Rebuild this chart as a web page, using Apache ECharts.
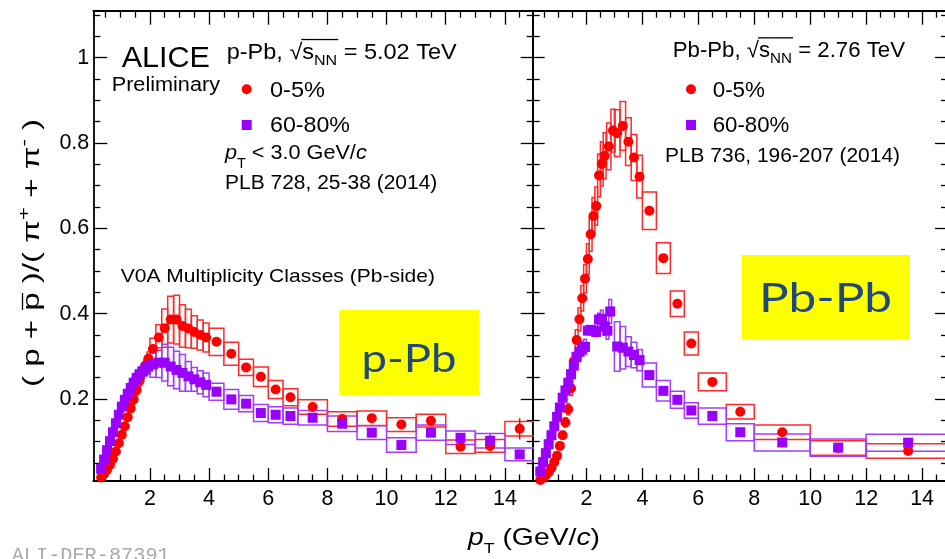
<!DOCTYPE html>
<html>
<head>
<meta charset="utf-8">
<title>(p+pbar)/(pi+ + pi-) vs pT — p-Pb and Pb-Pb</title>
<script src="https://cdn.jsdelivr.net/npm/echarts@6/dist/echarts.min.js"></script>
<style>
  html, body { margin: 0; padding: 0; background: #ffffff; }
  #chart { width: 945px; height: 559px; }
</style>
</head>
<body>
<div id="chart"></div>
<script>
// ---------------------------------------------------------------------------
// Tick positions / labels
// ---------------------------------------------------------------------------
const X_MAJOR = [2, 4, 6, 8, 10, 12, 14];
const X_MINOR = [0.5, 1, 1.5, 2.5, 3, 3.5, 4.5, 5, 5.5, 6.5, 7, 7.5, 8.5, 9, 9.5,
                 10.5, 11, 11.5, 12.5, 13, 13.5, 14.5];
const Y_MAJOR = [0.2, 0.4, 0.6, 0.8, 1.0];
const Y_MINOR = [0.05, 0.1, 0.15, 0.25, 0.3, 0.35, 0.45, 0.5, 0.55, 0.65, 0.7, 0.75,
                 0.85, 0.9, 0.95, 1.05, 1.1];

// ---------------------------------------------------------------------------
// p-Pb, sqrt(sNN) = 5.02 TeV  (V0A classes)
// ---------------------------------------------------------------------------
const ppbPt = [0.35, 0.45, 0.55, 0.65, 0.75, 0.85, 0.95, 1.05, 1.15, 1.25, 1.35, 1.45, 1.55, 1.65, 1.75, 1.85, 1.95,
               2.1, 2.3, 2.5, 2.7, 2.9, 3.1, 3.3, 3.5, 3.7, 3.9,
               4.25, 4.75, 5.25, 5.75, 6.25, 6.75,
               7.5, 8.5, 9.5, 10.5, 11.5, 12.5, 13.5, 14.5];
const ppbHalfWidth = [0.05, 0.05, 0.05, 0.05, 0.05, 0.05, 0.05, 0.05, 0.05, 0.05, 0.05, 0.05, 0.05, 0.05, 0.05, 0.05, 0.05,
                      0.1, 0.1, 0.1, 0.1, 0.1, 0.1, 0.1, 0.1, 0.1, 0.1,
                      0.25, 0.25, 0.25, 0.25, 0.25, 0.25,
                      0.5, 0.5, 0.5, 0.5, 0.5, 0.5, 0.5, 0.5];
// 0-5 %
const ppbCentVal = [0.016, 0.024, 0.034, 0.046, 0.060, 0.077, 0.096, 0.116, 0.136, 0.157, 0.178, 0.199, 0.221, 0.243, 0.262, 0.279, 0.294,
                    0.317, 0.344, 0.366, 0.386, 0.386, 0.371, 0.365, 0.357, 0.350, 0.344,
                    0.334, 0.306, 0.274, 0.252, 0.222, 0.204,
                    0.181, 0.153, 0.155, 0.140, 0.149, 0.088, 0.090, 0.130];
const ppbCentStat = [0.001, 0.001, 0.001, 0.002, 0.002, 0.002, 0.002, 0.002, 0.002, 0.002, 0.002, 0.003, 0.003, 0.003, 0.003, 0.003, 0.003,
                     0.004, 0.004, 0.005, 0.006, 0.006, 0.006, 0.006, 0.006, 0.006, 0.006,
                     0.004, 0.004, 0.004, 0.004, 0.004, 0.005,
                     0.005, 0.006, 0.007, 0.008, 0.011, 0.010, 0.014, 0.025];
const ppbCentSys = [0.002, 0.002, 0.003, 0.003, 0.004, 0.005, 0.006, 0.007, 0.008, 0.009, 0.010, 0.011, 0.012, 0.013, 0.014, 0.015, 0.016,
                    0.025, 0.030, 0.045, 0.055, 0.057, 0.050, 0.045, 0.038, 0.035, 0.034,
                    0.032, 0.027, 0.019, 0.023, 0.021, 0.020,
                    0.017, 0.017, 0.017, 0.016, 0.015, 0.016, 0.015, 0.017];
// 60-80 %
const ppbPeriVal = [0.036, 0.058, 0.080, 0.101, 0.122, 0.143, 0.163, 0.182, 0.198, 0.212, 0.226, 0.238, 0.249, 0.258, 0.265, 0.271, 0.276,
                    0.281, 0.285, 0.285, 0.276, 0.268, 0.261, 0.253, 0.246, 0.239, 0.233,
                    0.217, 0.199, 0.189, 0.167, 0.163, 0.160,
                    0.156, 0.142, 0.121, 0.092, 0.121, 0.109, 0.102, 0.070];
const ppbPeriStat = [0.001, 0.001, 0.002, 0.002, 0.002, 0.002, 0.002, 0.002, 0.002, 0.002, 0.002, 0.002, 0.003, 0.003, 0.003, 0.003, 0.003,
                     0.004, 0.004, 0.005, 0.005, 0.005, 0.005, 0.005, 0.005, 0.005, 0.005,
                     0.004, 0.004, 0.004, 0.004, 0.004, 0.004,
                     0.004, 0.005, 0.006, 0.007, 0.008, 0.011, 0.015, 0.011];
const ppbPeriSys = [0.002, 0.003, 0.004, 0.005, 0.006, 0.007, 0.008, 0.009, 0.010, 0.011, 0.012, 0.013, 0.014, 0.015, 0.016, 0.017, 0.018,
                    0.030, 0.035, 0.043, 0.045, 0.044, 0.043, 0.035, 0.028, 0.027, 0.028,
                    0.020, 0.023, 0.019, 0.020, 0.019, 0.019,
                    0.017, 0.018, 0.016, 0.017, 0.018, 0.016, 0.017, 0.015];

// ---------------------------------------------------------------------------
// Pb-Pb, sqrt(sNN) = 2.76 TeV
// ---------------------------------------------------------------------------
// 0-5 %
const pbpbCentPt = [0.35, 0.45, 0.55, 0.65, 0.75, 0.85, 0.95, 1.05, 1.15, 1.25, 1.35, 1.45, 1.55, 1.65, 1.75, 1.85, 1.95,
                    2.05, 2.15, 2.25, 2.35, 2.45, 2.55, 2.65,
                    2.8, 2.95, 3.1, 3.3, 3.5, 3.7, 3.9,
                    4.25, 4.75, 5.25, 5.75, 6.5, 7.5, 9, 11, 13.5];
const pbpbCentHalfWidth = [0.05, 0.05, 0.05, 0.05, 0.05, 0.05, 0.05, 0.05, 0.05, 0.05, 0.05, 0.05, 0.05, 0.05, 0.05, 0.05, 0.05,
                           0.05, 0.05, 0.05, 0.05, 0.05, 0.05, 0.05,
                           0.075, 0.075, 0.1, 0.1, 0.1, 0.1, 0.1,
                           0.25, 0.25, 0.25, 0.25, 0.5, 0.5, 1, 1, 1.5];
const pbpbCentVal = [0.010, 0.015, 0.021, 0.028, 0.038, 0.052, 0.067, 0.090, 0.115, 0.145, 0.176, 0.225, 0.288, 0.338, 0.387, 0.436, 0.482,
                     0.528, 0.586, 0.629, 0.652, 0.724, 0.751, 0.770,
                     0.792, 0.829, 0.823, 0.840, 0.803, 0.766, 0.721,
                     0.641, 0.530, 0.423, 0.330, 0.240, 0.170, 0.122, 0.085, 0.078];
const pbpbCentStat = [0.001, 0.001, 0.001, 0.001, 0.002, 0.002, 0.002, 0.002, 0.003, 0.003, 0.003, 0.003, 0.004, 0.004, 0.004, 0.004, 0.005,
                      0.005, 0.005, 0.005, 0.005, 0.006, 0.006, 0.006,
                      0.007, 0.007, 0.007, 0.007, 0.007, 0.007, 0.007,
                      0.006, 0.005, 0.005, 0.005, 0.004, 0.004, 0.004, 0.004, 0.005];
const pbpbCentSys = [0.001, 0.001, 0.002, 0.002, 0.003, 0.004, 0.005, 0.007, 0.009, 0.011, 0.013, 0.017, 0.021, 0.024, 0.027, 0.030, 0.033,
                     0.036, 0.040, 0.043, 0.045, 0.050, 0.052, 0.054,
                     0.055, 0.050, 0.055, 0.057, 0.056, 0.054, 0.050,
                     0.044, 0.036, 0.030, 0.027, 0.021, 0.017, 0.017, 0.017, 0.017];
// 60-80 %
const pbpbPeriPt = [0.35, 0.45, 0.55, 0.65, 0.75, 0.85, 0.95, 1.05, 1.15, 1.25, 1.35, 1.45, 1.55, 1.65, 1.75, 1.85, 1.95,
                    2.05, 2.15, 2.25, 2.35, 2.45, 2.55, 2.65, 2.75, 2.85,
                    3.1, 3.3, 3.5, 3.7, 3.9,
                    4.25, 4.75, 5.25, 5.75, 6.5, 7.5, 9, 11, 13.5];
const pbpbPeriHalfWidth = [0.05, 0.05, 0.05, 0.05, 0.05, 0.05, 0.05, 0.05, 0.05, 0.05, 0.05, 0.05, 0.05, 0.05, 0.05, 0.05, 0.05,
                           0.05, 0.05, 0.05, 0.05, 0.05, 0.05, 0.05, 0.05, 0.05,
                           0.1, 0.1, 0.1, 0.1, 0.1,
                           0.25, 0.25, 0.25, 0.25, 0.5, 0.5, 1, 1, 1.5];
const pbpbPeriVal = [0.030, 0.052, 0.073, 0.094, 0.115, 0.136, 0.158, 0.180, 0.203, 0.220, 0.238, 0.258, 0.278, 0.298, 0.311, 0.318, 0.322,
                     0.360, 0.362, 0.360, 0.357, 0.386, 0.388, 0.370, 0.360, 0.405,
                     0.323, 0.320, 0.311, 0.303, 0.291,
                     0.256, 0.219, 0.198, 0.173, 0.160, 0.122, 0.098, 0.086, 0.0975];
const pbpbPeriStat = [0.001, 0.001, 0.002, 0.002, 0.002, 0.002, 0.003, 0.003, 0.003, 0.003, 0.003, 0.003, 0.004, 0.004, 0.004, 0.004, 0.004,
                      0.005, 0.005, 0.005, 0.005, 0.006, 0.006, 0.006, 0.006, 0.012,
                      0.006, 0.006, 0.006, 0.006, 0.006,
                      0.005, 0.005, 0.005, 0.005, 0.004, 0.004, 0.004, 0.005, 0.006];
const pbpbPeriSys = [0.002, 0.003, 0.004, 0.005, 0.006, 0.007, 0.008, 0.009, 0.010, 0.011, 0.012, 0.013, 0.014, 0.015, 0.016, 0.017, 0.018,
                     0.008, 0.008, 0.008, 0.008, 0.015, 0.020, 0.020, 0.020, 0.028,
                     0.058, 0.050, 0.035, 0.030, 0.025,
                     0.028, 0.024, 0.020, 0.018, 0.019, 0.020, 0.020, 0.020, 0.020];

// ---------------------------------------------------------------------------
// Layout and style
// ---------------------------------------------------------------------------
const FONT = '"Liberation Sans", Arial, Helvetica, sans-serif';
const RED = '#ff0000';
const VIOLET = '#9900ff';
const RED_BOX = '#ff2a2a';
const VIOLET_BOX = '#a23cff';

const GRID_TOP = 10.7;
const GRID_H = 470.3;
const Y_MIN = 0.0077;
const Y_MAX = 1.110;
const PANELS = [
  { left: 93.3,  width: 439.4, xMin: 0.085, xMax: 14.94, yLabels: true,  yTickIn: [14, 7], yTickOut: [12, 6] },
  { left: 532.7, width: 414.3, xMin: 0.079, xMax: 14.89, yLabels: false, yTickIn: [12, 7], yTickOut: [12, 6] }
];

function xAxisDef(gi, p, position, ticks, len, withLabel, withLine) {
  return {
    type: 'value', gridIndex: gi, position: position, min: p.xMin, max: p.xMax,
    axisLine: { show: withLine, onZero: false, lineStyle: { color: '#000', width: 1.8 } },
    axisTick: { show: true, inside: true, length: len, customValues: ticks,
                lineStyle: { color: '#000', width: 1.3 } },
    axisLabel: withLabel
      ? { show: true, customValues: ticks, fontSize: 21.5, fontFamily: FONT, color: '#000', margin: 7 }
      : { show: false },
    splitLine: { show: false }, minorTick: { show: false }, minorSplitLine: { show: false }
  };
}
function yAxisDef(gi, position, ticks, len, withLabel, withLine) {
  return {
    type: 'value', gridIndex: gi, position: position, min: Y_MIN, max: Y_MAX,
    axisLine: { show: withLine, onZero: false, lineStyle: { color: '#000', width: 1.8 } },
    axisTick: { show: true, inside: true, length: len, customValues: ticks,
                lineStyle: { color: '#000', width: 1.3 } },
    axisLabel: withLabel
      ? { show: true, customValues: ticks, fontSize: 21.5, fontFamily: FONT, color: '#000', margin: 4 }
      : { show: false },
    splitLine: { show: false }, minorTick: { show: false }, minorSplitLine: { show: false }
  };
}

const grids = [];
const xAxes = [];
const yAxes = [];
PANELS.forEach((p, gi) => {
  grids.push({ left: p.left, top: GRID_TOP, width: p.width, height: GRID_H,
               containLabel: false, outerBoundsMode: 'none', show: false });
  xAxes.push(xAxisDef(gi, p, 'bottom', X_MAJOR, 13, true, true));
  xAxes.push(xAxisDef(gi, p, 'bottom', X_MINOR, 6.5, false, false));
  xAxes.push(xAxisDef(gi, p, 'top', X_MAJOR, 14, false, true));
  xAxes.push(xAxisDef(gi, p, 'top', X_MINOR, 7, false, false));
  yAxes.push(yAxisDef(gi, 'left', Y_MAJOR, p.yTickIn[0], p.yLabels, true));
  yAxes.push(yAxisDef(gi, 'left', Y_MINOR, p.yTickIn[1], false, false));
  yAxes.push(yAxisDef(gi, 'right', Y_MAJOR, p.yTickOut[0], false, true));
  yAxes.push(yAxisDef(gi, 'right', Y_MINOR, p.yTickOut[1], false, false));
});

// ---------------------------------------------------------------------------
// Series builders: systematic boxes, statistical bars, markers
// ---------------------------------------------------------------------------
function rows(pt, val, stat, sys, hw) {
  return pt.map((x, i) => [x, val[i], stat[i], sys[i], hw[i]]);
}
function sysBoxes(gi, data, color) {
  return {
    type: 'custom', xAxisIndex: 4 * gi, yAxisIndex: 4 * gi, clip: true, silent: true,
    data: data, encode: { x: 0, y: 1 },
    renderItem: function (params, api) {
      const x = api.value(0), v = api.value(1), s = api.value(3), w = api.value(4);
      const a = api.coord([x - w, v + s]);
      const b = api.coord([x + w, v - s]);
      return { type: 'rect',
               shape: { x: a[0], y: a[1], width: b[0] - a[0], height: b[1] - a[1] },
               style: { fill: 'none', stroke: color, lineWidth: 1.5 } };
    }
  };
}
function statBars(gi, data, color) {
  return {
    type: 'custom', xAxisIndex: 4 * gi, yAxisIndex: 4 * gi, clip: true, silent: true,
    data: data, encode: { x: 0, y: 1 },
    renderItem: function (params, api) {
      const x = api.value(0), v = api.value(1), e = api.value(2);
      const a = api.coord([x, v + e]);
      const b = api.coord([x, v - e]);
      return { type: 'line', shape: { x1: a[0], y1: a[1], x2: b[0], y2: b[1] },
               style: { stroke: color, lineWidth: 1.5 } };
    }
  };
}
function markers(gi, data, color, symbol) {
  return {
    type: 'scatter', xAxisIndex: 4 * gi, yAxisIndex: 4 * gi, clip: true, silent: true,
    symbol: symbol, symbolSize: 10, itemStyle: { color: color, opacity: 1 },
    data: data.map(r => [r[0], r[1]])
  };
}

const ppbCent = rows(ppbPt, ppbCentVal, ppbCentStat, ppbCentSys, ppbHalfWidth);
const ppbPeri = rows(ppbPt, ppbPeriVal, ppbPeriStat, ppbPeriSys, ppbHalfWidth);
const pbpbCent = rows(pbpbCentPt, pbpbCentVal, pbpbCentStat, pbpbCentSys, pbpbCentHalfWidth);
const pbpbPeri = rows(pbpbPeriPt, pbpbPeriVal, pbpbPeriStat, pbpbPeriSys, pbpbPeriHalfWidth);

const series = [
  sysBoxes(0, ppbCent, RED_BOX), statBars(0, ppbCent, RED), markers(0, ppbCent, RED, 'circle'),
  sysBoxes(0, ppbPeri, VIOLET_BOX), statBars(0, ppbPeri, VIOLET), markers(0, ppbPeri, VIOLET, 'rect'),
  sysBoxes(1, pbpbCent, RED_BOX), statBars(1, pbpbCent, RED), markers(1, pbpbCent, RED, 'circle'),
  sysBoxes(1, pbpbPeri, VIOLET_BOX), statBars(1, pbpbPeri, VIOLET), markers(1, pbpbPeri, VIOLET, 'rect')
];

// ---------------------------------------------------------------------------
// Text with italics, sub/superscripts and over-bars, laid out run by run
// ---------------------------------------------------------------------------
const meas = document.createElement('canvas').getContext('2d');
function fontOf(r, fam) {
  return (r.italic ? 'italic ' : '') + r.size + 'px ' + (r.family || fam);
}
function textLine(cfg) {
  const fam = cfg.family || FONT;
  const color = cfg.color || '#000';
  let cx = 0;
  const kids = [];
  cfg.runs.forEach(r => {
    const font = fontOf(r, fam);
    meas.font = font;
    const w = meas.measureText(r.t).width;
    const base = r.dy || 0;
    kids.push({ type: 'text', x: cx, y: base - 0.33 * r.size, z: 60,
                style: { text: r.t, font: font, fill: color,
                         align: 'left', textAlign: 'left',
                         verticalAlign: 'middle', textVerticalAlign: 'middle' } });
    if (r.bar) {
      // bar[2] is the height of the bar above the main baseline
      kids.push({ type: 'line', z: 60,
                  shape: { x1: cx + r.bar[0], y1: -r.bar[2], x2: cx + w + r.bar[1], y2: -r.bar[2] },
                  style: { stroke: color, lineWidth: 1.3 } });
    }
    cx += w;
  });
  const sx = cfg.width ? cfg.width / cx : 1;
  const off = cfg.align === 'center' ? -cx / 2 : 0;
  kids.forEach(k => {
    if (k.type === 'text') { k.x += off; }
    else { k.shape.x1 += off; k.shape.x2 += off; }
  });
  return { type: 'group', x: cfg.x, y: cfg.y, scaleX: sx, rotation: cfg.rotation || 0,
           children: kids, z: 60 };
}

function sqrtHeader(x, y, width, system, energy) {
  const f = 22, fs = 15, barH = 0.93 * f;
  return textLine({
    x: x, y: y, width: width,
    runs: [
      { t: system + ', ', size: f },
      { t: '\u221A', size: f },
      { t: 's', size: f, bar: [-1, 0, barH] },
      { t: 'NN', size: fs, dy: 6, bar: [0, 1, barH] },
      { t: ' = ' + energy + ' TeV', size: f }
    ]
  });
}

const TAG_FONT = 'Lato, "Open Sans", sans-serif';
const graphics = [
  // yellow system tags
  { type: 'rect', shape: { x: 339.3, y: 310, width: 139.7, height: 85 }, style: { fill: '#ffff00' }, z: 40 },
  { type: 'rect', shape: { x: 741.7, y: 255, width: 168.3, height: 84.3 }, style: { fill: '#ffff00' }, z: 40 },
  textLine({ x: 409, y: 372, width: 95, align: 'center', family: TAG_FONT, color: '#1f497d',
             runs: [{ t: 'p-Pb', size: 38 }] }),
  textLine({ x: 825.5, y: 312, width: 133, align: 'center', family: TAG_FONT, color: '#1f497d',
             runs: [{ t: 'Pb-Pb', size: 40 }] }),

  // p-Pb panel annotations
  textLine({ x: 121.7, y: 68.3, width: 88.3, runs: [{ t: 'ALICE', size: 30 }] }),
  textLine({ x: 111.7, y: 91.7, width: 108.3, runs: [{ t: 'Preliminary', size: 20 }] }),
  sqrtHeader(226.7, 60, 230, 'p-Pb', '5.02'),
  { type: 'circle', shape: { cx: 246.7, cy: 89.3, r: 5 }, style: { fill: RED }, z: 60 },
  textLine({ x: 270, y: 98.3, width: 55, runs: [{ t: '0-5%', size: 22 }] }),
  { type: 'rect', shape: { x: 241.7, y: 120, width: 10, height: 10 }, style: { fill: VIOLET }, z: 60 },
  textLine({ x: 270, y: 132.7, width: 80, runs: [{ t: '60-80%', size: 22 }] }),
  textLine({ x: 225, y: 160, width: 141.7,
             runs: [{ t: 'p', size: 21, italic: true }, { t: 'T', size: 14, dy: 9 },
                    { t: ' < 3.0 GeV/', size: 21 }, { t: 'c', size: 21, italic: true }] }),
  textLine({ x: 225, y: 190, width: 212.3, runs: [{ t: 'PLB 728, 25-38 (2014)', size: 20 }] }),
  textLine({ x: 120.7, y: 283.3, width: 314.3, runs: [{ t: 'V0A Multiplicity Classes (Pb-side)', size: 18.5 }] }),

  // Pb-Pb panel annotations
  sqrtHeader(672.7, 58.3, 232.3, 'Pb-Pb', '2.76'),
  { type: 'circle', shape: { cx: 691, cy: 89.3, r: 5 }, style: { fill: RED }, z: 60 },
  textLine({ x: 712.7, y: 98.3, width: 52.3, runs: [{ t: '0-5%', size: 22 }] }),
  { type: 'rect', shape: { x: 686, y: 120, width: 10, height: 10 }, style: { fill: VIOLET }, z: 60 },
  textLine({ x: 712.7, y: 132.7, width: 76.6, runs: [{ t: '60-80%', size: 22 }] }),
  textLine({ x: 665, y: 162.7, width: 235, runs: [{ t: 'PLB 736, 196-207 (2014)', size: 20 }] }),

  // axis titles
  textLine({ x: 468, y: 546, width: 132,
             runs: [{ t: 'p', size: 24, italic: true }, { t: 'T', size: 15, dy: 8 },
                    { t: ' (GeV/', size: 24 }, { t: 'c', size: 24, italic: true }, { t: ')', size: 24 }] }),
  textLine({ x: 40, y: 253, width: 268, align: 'center', rotation: Math.PI / 2,
             runs: [{ t: '( p + ', size: 24 },
                    { t: 'p', size: 24, bar: [0.5, -0.5, 17.5] },
                    { t: ' )/( \u03C0', size: 24 },
                    { t: '+', size: 16, dy: -10 },
                    { t: ' + \u03C0', size: 24 },
                    { t: '-', size: 16, dy: -10 },
                    { t: ' )', size: 24 }] }),

  // figure identifier
  textLine({ x: 11.7, y: 562, width: 158, family: '"Liberation Mono", "DejaVu Sans Mono", monospace', color: '#aaaaaa',
             runs: [{ t: 'ALI-DER-87391', size: 20 }] })
];

const chart = echarts.init(document.getElementById('chart'), null, { renderer: 'canvas', width: 945, height: 559 });
chart.setOption({
  animation: false,
  backgroundColor: '#ffffff',
  grid: grids,
  xAxis: xAxes,
  yAxis: yAxes,
  series: series,
  graphic: graphics
});
</script>
</body>
</html>
